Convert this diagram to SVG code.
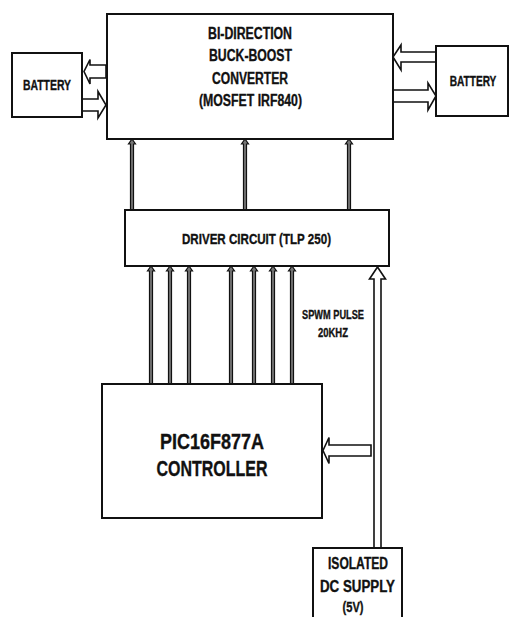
<svg xmlns="http://www.w3.org/2000/svg" width="511" height="617" viewBox="0 0 511 617">
<style>
.box{fill:#fff;stroke:#111;stroke-width:2}
.ha{fill:#fff;stroke:#111;stroke-width:1.6;stroke-linejoin:miter}
.va{fill:#777;stroke:#111;stroke-width:1.2}
.t{font-family:"Liberation Sans Narrow","Liberation Sans",Arial,sans-serif;font-weight:bold;fill:#111;stroke:#111;stroke-width:0.35;text-anchor:middle}
</style>
<rect width="511" height="617" fill="#fff"/>
<g id="connectors">
<polygon class="ha" points="106,65 90,65 90,59.5 84,71.5 90,84 90,78 106,78"/>
<polygon class="ha" points="82,99 98,99 98,91.5 106,105 98,118 98,111 82,111"/>
<polygon class="ha" points="436,52 401,52 401,45 393,57 401,70 401,62 436,62"/>
<polygon class="ha" points="393,90 428,90 428,83 436,96 428,110 428,102 393,102"/>
<polygon class="va" points="130.5,210 130.5,144 128.5,144 132,139 135.5,144 133.5,144 133.5,210"/>
<polygon class="va" points="243.5,210 243.5,144 241.5,144 245,139 248.5,144 246.5,144 246.5,210"/>
<polygon class="va" points="347.5,210 347.5,144 345.5,144 349,139 352.5,144 350.5,144 350.5,210"/>
<polygon class="va" points="149.5,384 149.5,271 147.5,271 151,266 154.5,271 152.5,271 152.5,384"/>
<polygon class="va" points="168.5,384 168.5,271 166.5,271 170,266 173.5,271 171.5,271 171.5,384"/>
<polygon class="va" points="187.5,384 187.5,271 185.5,271 189,266 192.5,271 190.5,271 190.5,384"/>
<polygon class="va" points="229.5,384 229.5,271 227.5,271 231,266 234.5,271 232.5,271 232.5,384"/>
<polygon class="va" points="252.5,384 252.5,271 250.5,271 254,266 257.5,271 255.5,271 255.5,384"/>
<polygon class="va" points="271.5,384 271.5,271 269.5,271 273,266 276.5,271 274.5,271 274.5,384"/>
<polygon class="va" points="290.5,384 290.5,271 288.5,271 292,266 295.5,271 293.5,271 293.5,384"/>
<polygon class="ha" points="374,548 374,279 369.5,279 377.5,267 385.5,279 381,279 381,548"/>
<polygon class="ha" points="371,445 329,445 329,437.5 323,450.5 329,463.5 329,456 371,456"/>
</g>
<g id="converter">
<rect class="box" x="107" y="14" width="286" height="125"/>
<text class="t" font-size="16" x="250" y="38.5" textLength="84" lengthAdjust="spacingAndGlyphs">BI-DIRECTION</text>
<text class="t" font-size="16" x="250.5" y="61" textLength="83" lengthAdjust="spacingAndGlyphs">BUCK-BOOST</text>
<text class="t" font-size="16" x="250" y="83.5" textLength="76" lengthAdjust="spacingAndGlyphs">CONVERTER</text>
<text class="t" font-size="16" x="250.5" y="105.5" textLength="103" lengthAdjust="spacingAndGlyphs">(MOSFET IRF840)</text>
</g>
<g id="battery-left">
<rect class="box" x="12" y="53" width="70" height="64"/>
<text class="t" font-size="15" x="47" y="90" textLength="48" lengthAdjust="spacingAndGlyphs">BATTERY</text>
</g>
<g id="battery-right">
<rect class="box" x="436" y="46" width="72" height="70"/>
<text class="t" font-size="14.5" transform="translate(473,85.5) scale(0.7,1)" x="0" y="0">BATTERY</text>
</g>
<g id="driver">
<rect class="box" x="125" y="210" width="264" height="56"/>
<text class="t" font-size="15" x="256.5" y="243.5" textLength="149" lengthAdjust="spacingAndGlyphs">DRIVER CIRCUIT (TLP 250)</text>
</g>
<g id="spwm-label">
<text class="t" font-size="13" x="333" y="319" textLength="62" lengthAdjust="spacingAndGlyphs">SPWM PULSE</text>
<text class="t" font-size="13" x="333" y="337" textLength="30" lengthAdjust="spacingAndGlyphs">20KHZ</text>
</g>
<g id="controller">
<rect class="box" x="102" y="384" width="220" height="134"/>
<text class="t" font-size="22" x="212" y="449" textLength="104" lengthAdjust="spacingAndGlyphs">PIC16F877A</text>
<text class="t" font-size="22" x="212" y="476" textLength="111" lengthAdjust="spacingAndGlyphs">CONTROLLER</text>
</g>
<g id="supply">
<rect class="box" x="313" y="548" width="89" height="80"/>
<text class="t" font-size="16" x="358" y="569" textLength="60" lengthAdjust="spacingAndGlyphs">ISOLATED</text>
<text class="t" font-size="16" x="357.5" y="592" textLength="75" lengthAdjust="spacingAndGlyphs">DC SUPPLY</text>
<text class="t" font-size="15" x="353" y="612" textLength="21" lengthAdjust="spacingAndGlyphs">(5V)</text>
</g>
</svg>
